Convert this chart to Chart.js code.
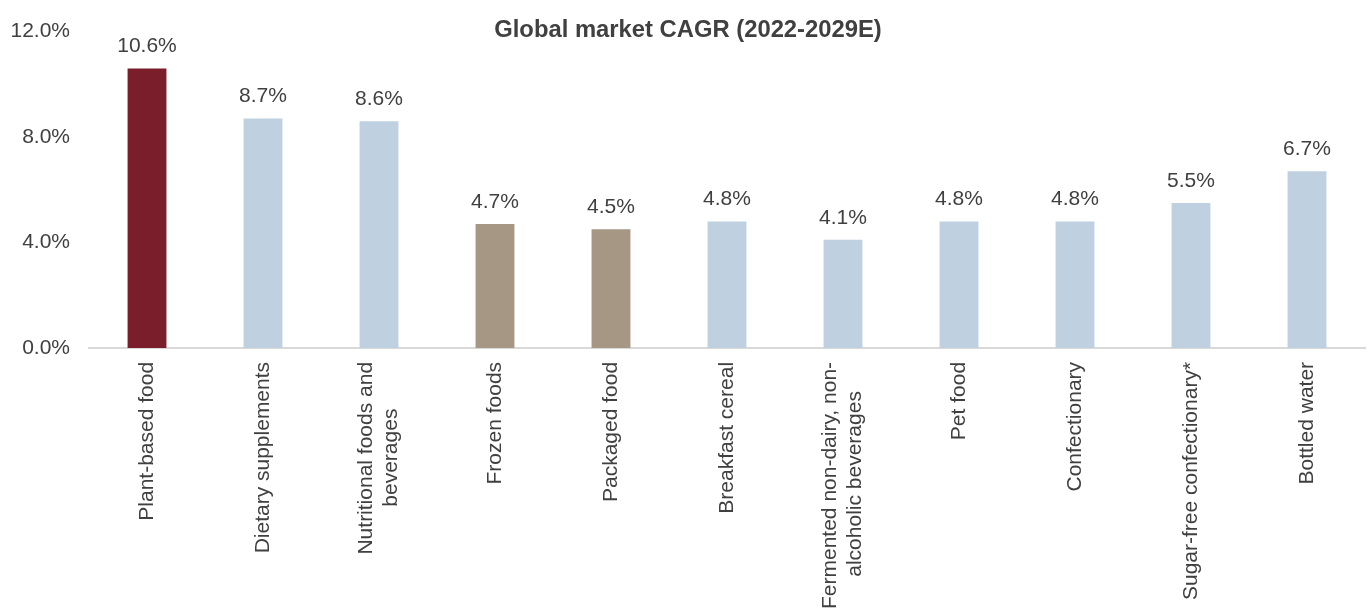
<!DOCTYPE html>
<html>
<head>
<meta charset="utf-8">
<script src="https://cdn.jsdelivr.net/npm/chart.js@4.4.1/dist/chart.umd.min.js"></script>
<style>
    html, body { margin: 0; padding: 0; background: #fff; overflow: hidden; }
    #wrap { width: 1370px; height: 623px; }
</style>
</head>
<body>
<div id="wrap"><canvas id="chart-01"></canvas></div>
<script>
// categories (trailing spaces centre the short line of a two-line label)
const categories = [
    'Plant-based food',
    'Dietary supplements',
    ['Nutritional foods and', 'beverages        '],
    'Frozen foods',
    'Packaged food',
    'Breakfast cereal',
    ['Fermented non-dairy, non-', 'alcoholic beverages     '],
    'Pet food',
    'Confectionary',
    'Sugar-free confectionary*',
    'Bottled water'
];
const cagrValues = [10.6, 8.7, 8.6, 4.7, 4.5, 4.8, 4.1, 4.8, 4.8, 5.5, 6.7];
const barColors = ['#7B1E2B', '#BFD0E0', '#BFD0E0', '#A69684', '#A69684', '#BFD0E0',
    '#BFD0E0', '#BFD0E0', '#BFD0E0', '#BFD0E0', '#BFD0E0'];
const yTicks = [0, 4, 8, 12];

const textColor = '#404040';
const fontFamily = '"Liberation Sans", Arial, sans-serif';

// value labels above the bars
const valueLabels = {
    id: 'valueLabels',
    afterDatasetsDraw(chart) {
        const ctx = chart.ctx;
        const meta = chart.getDatasetMeta(0);
        ctx.save();
        ctx.font = '21px ' + fontFamily;
        ctx.fillStyle = textColor;
        ctx.textAlign = 'center';
        ctx.textBaseline = 'middle';
        meta.data.forEach((bar, i) => {
            ctx.fillText(cagrValues[i].toFixed(1) + '%', bar.x, bar.y - 22);
        });
        ctx.restore();
    }
};

// centre multi-line rotated labels on their tick
const centreLabels = {
    id: 'centreLabels',
    beforeDraw(chart) {
        const scale = chart.scales.x;
        const items = scale.getLabelItems();
        items.forEach(item => {
            if (Array.isArray(item.label) && !item._shifted) {
                const lh = 21 * 1.2;
                item.options.translation[0] -= (item.label.length - 1) * lh / 2;
                item._shifted = true;
            }
        });
    }
};

const ctx01 = document.getElementById('chart-01');

new Chart(ctx01, {
    type: 'bar',
    data: {
        labels: categories,
        datasets: [{
            data: cagrValues,
            backgroundColor: barColors,
            barPercentage: 0.335,
            categoryPercentage: 1
        }]
    },
    options: {
        responsive: true,
        maintainAspectRatio: false,
        animation: false,
        layout: {
            padding: { top: 0, left: 11, right: 5, bottom: 0 }
        },
        scales: {
            x: {
                grid: { display: false, drawTicks: false },
                border: { display: true, color: '#d9d9d9', width: 2 },
                ticks: {
                    color: textColor,
                    font: { family: fontFamily, size: 21 },
                    minRotation: 90,
                    maxRotation: 90,
                    autoSkip: false,
                    padding: 14
                }
            },
            y: {
                min: 0,
                max: 12,
                grid: { display: false, drawTicks: false },
                border: { display: false },
                afterBuildTicks: (axis) => {
                    axis.ticks = yTicks.map(v => ({ value: v }));
                },
                afterFit: (axis) => {
                    axis.width = 78;
                },
                ticks: {
                    color: textColor,
                    font: { family: fontFamily, size: 21 },
                    padding: 19,
                    callback: (v) => v.toFixed(1) + '%'
                }
            }
        },
        plugins: {
            legend: { display: false },
            tooltip: { enabled: false },
            title: {
                display: true,
                text: 'Global market CAGR (2022-2029E)',
                color: textColor,
                font: { family: fontFamily, size: 23.8, weight: 'bold' },
                padding: { top: 13.7, bottom: -13.3 }
            }
        }
    },
    plugins: [valueLabels, centreLabels]
});
</script>
</body>
</html>
